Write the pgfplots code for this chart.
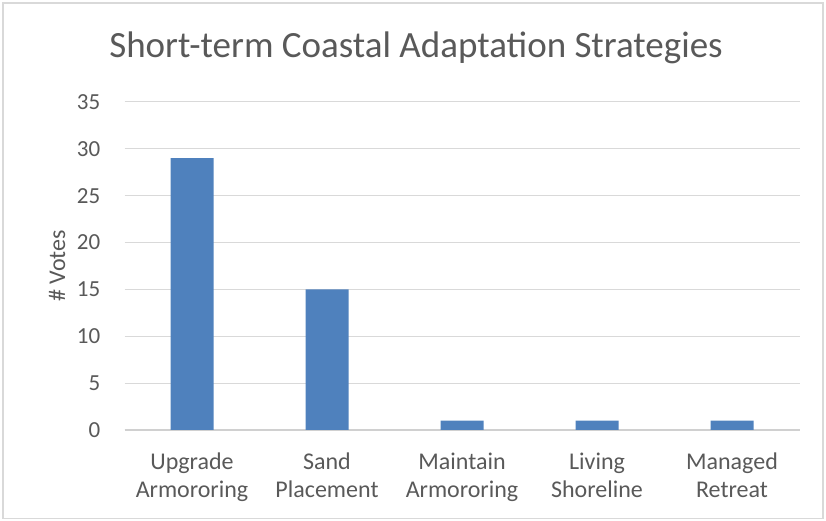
\documentclass[border=0pt]{standalone}
\usepackage{fontspec}
\setmainfont{Carlito}
\usepackage{pgfplots}
\pgfplotsset{compat=1.18}
\definecolor{barblue}{HTML}{4F81BD}
\definecolor{gridgray}{HTML}{D9D9D9}
\definecolor{axisgray}{HTML}{D0D0D0}
\definecolor{textgray}{HTML}{595959}
\definecolor{framegray}{HTML}{D9D9D9}
\begin{document}
\begin{tikzpicture}
\path[use as bounding box] (0pt,0pt) rectangle (826pt,521pt);
\draw[framegray, line width=1.2pt] (3pt,2.5pt) rectangle (823pt,518pt);
\node[text=textgray, font=\fontsize{37}{44}\selectfont, anchor=center] at (416pt,473pt) {Short-term Coastal Adaptation Strategies};
\begin{axis}[
  at={(124.5pt,91pt)}, anchor=south west,
  scale only axis, width=675pt, height=328pt,
  xmin=-0.5, xmax=4.5, ymin=0, ymax=35,
  ytick={0,5,...,35},
  xtick=data,
  xticklabels={Upgrade\\Armororing, Sand\\Placement, Maintain\\Armororing, Living\\Shoreline, Managed\\Retreat},
  /pgf/number format/assume math mode=true,
  ymajorgrids,
  grid style={gridgray, line width=1pt},
  axis x line*=bottom, axis y line*=left,
  x axis line style={axisgray, line width=1.2pt, -},
  y axis line style={draw=none},
  major tick length=0pt,
  tick style={draw=none},
  ticklabel style={text=textgray},
  xticklabel style={align=center, inner sep=0pt, yshift=-23pt, font=\fontsize{24}{28}\selectfont},
  yticklabel style={inner sep=0pt, xshift=-24pt, font=\fontsize{23}{27}\selectfont},
  ylabel={\# Votes},
  ylabel style={text=textgray, font=\fontsize{24}{28}\selectfont, at={(axis description cs:-0.1,0.5)}, anchor=center},
]
\addplot[ybar, bar width=43pt, fill=barblue, draw=none] coordinates {(0,29) (1,15) (2,1) (3,1) (4,1)};
\end{axis}
\end{tikzpicture}
\end{document}
